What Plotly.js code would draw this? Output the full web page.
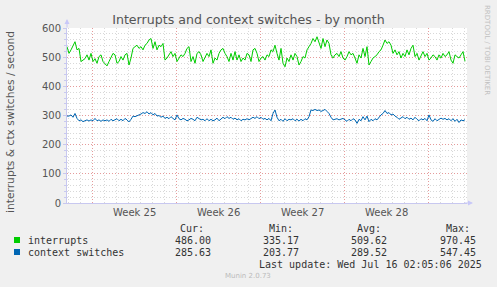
<!DOCTYPE html>
<html>
<head>
<meta charset="utf-8">
<script src="https://cdn.plot.ly/plotly-3.0.1.min.js"></script>
<style>html,body{margin:0;padding:0;background:#F0F0F0;}#chart{width:497px;height:287px;}</style>
</head>
<body>
<div id="chart"></div>
<script>
// ---- data (4-hour samples) ----
const seriesNames = ["interrupts", "context switches"];
const seriesColors = ["#00CC00", "#0066B3"];
const interrupts = [
 536,513,525,541,553,525,530,485,490,495,
 508,490,513,485,495,479,502,508,485,479,
 470,485,497,513,508,479,485,502,490,508,
 513,473,497,530,536,541,530,536,525,541,
 547,559,564,530,553,525,541,536,547,490,
 497,508,519,502,513,485,497,508,502,513,
 530,536,485,502,479,513,519,508,485,502,
 513,502,525,479,497,490,513,525,530,513,
 502,485,513,490,519,490,508,485,497,490,
 513,508,485,525,530,513,485,497,502,490,
 508,502,525,519,541,513,490,530,479,467,
 497,485,508,490,513,502,473,485,502,497,
 525,536,547,564,553,570,547,530,564,536,
 559,547,508,497,508,513,502,519,497,490,
 502,519,508,513,497,479,508,497,530,502,
 536,473,485,497,502,508,519,525,541,559,
 547,553,541,513,525,508,519,497,513,502,
 525,508,530,541,502,513,490,508,519,502,
 513,490,497,508,502,490,508,497,513,502,
 508,519,490,479,508,502,497,508,519,486];
const ctxSwitches = [
 298,298,302,294,307,290,282,285,279,282,
 285,281,285,282,290,282,285,280,285,282,
 285,280,287,282,287,289,282,287,282,290,
 285,278,287,298,296,298,302,305,310,307,
 313,305,310,302,307,298,300,294,298,290,
 294,289,296,290,285,302,289,285,290,287,
 282,285,290,287,282,294,290,285,287,282,
 289,282,287,282,285,291,282,289,294,289,
 296,290,294,287,291,285,289,282,287,285,
 289,285,289,294,290,296,289,294,287,290,
 285,290,282,307,319,294,282,287,280,289,
 282,287,285,289,282,287,281,287,282,289,
 285,296,319,317,321,317,319,314,317,321,
 314,307,294,285,287,289,285,287,290,285,
 280,287,282,289,285,273,287,282,296,285,
 298,279,287,282,289,285,294,302,307,317,
 307,310,302,305,298,294,287,291,296,289,
 294,287,291,285,294,287,282,289,285,290,
 282,302,285,280,289,282,287,291,287,290,
 285,289,282,289,280,287,276,285,282,285.63];
const yTicks = [0,100,200,300,400,500,600];
const weekStarts = ["2025-06-16","2025-06-23","2025-06-30","2025-07-07","2025-07-14"];
const weekLabels = ["Week 25","Week 26","Week 27","Week 28"];
const weekMids = ["2025-06-19 12:00","2025-06-26 12:00","2025-07-03 12:00","2025-07-10 12:00"];
const statHeaders = ["Cur:","Min:","Avg:","Max:"];
const statsInterrupts = ["486.00","335.17","509.62","970.45"];
const statsCtx = ["285.63","203.77","289.52","547.45"];
const lastUpdate = "Last update: Wed Jul 16 02:05:06 2025";
const titleText = "Interrupts and context switches - by month";
const yTitle = "interrupts & ctx switches / second";

// ---- time axis ----
const HOUR = 3600000;
const t0 = Date.UTC(2025,5,13,21,24);
const xs = interrupts.map((_, i) => t0 + i*4*HOUR);
const xRange = ["2025-06-13 21:24", "2025-07-17 05:24"];

// ---- geometry helpers (pixel -> paper) ----
const W = 497, H = 287, L = 67, R = 30, T = 28, B = 84;
const PW = W - L - R, PH = H - T - B;
const px = x => (x - L) / PW;
const py = y => (H - B - y) / PH;

const mono = "DejaVu Sans Mono, monospace";
const sans = "DejaVu Sans, sans-serif";
const txt = "#333333";

const traces = [
  {x: xs, y: interrupts, type: "scatter", mode: "lines", name: seriesNames[0],
   line: {color: seriesColors[0], width: 1}, hoverinfo: "skip"},
  {x: xs, y: ctxSwitches, type: "scatter", mode: "lines", name: seriesNames[1],
   line: {color: seriesColors[1], width: 1}, hoverinfo: "skip"}
];

const ann = [];
function A(o){ ann.push(Object.assign({xref:"paper", yref:"paper", showarrow:false, borderpad:0}, o)); }

weekLabels.forEach((w, i) => ann.push({x: weekMids[i], xref:"x", y: py(212.5), yref:"paper",
  text: w, showarrow:false, font:{family:sans, size:10, color:"#555"}, yanchor:"middle"}));
A({x: px(10), y: py(122), text: yTitle, textangle: -90, font:{family:sans, size:10.7, color:"#555"}, xanchor:"center", yanchor:"middle"});
A({x: px(487), y: py(4), text: "RRDTOOL / TOBI OETIKER", textangle: 90, font:{family:sans, size:7, color:"#C0C0C0"}, xanchor:"center", yanchor:"top"});
const hdrRight = [204, 292.7, 381, 470];
const valRight = [210.7, 299.3, 387.3, 476];
statHeaders.forEach((h,i) => A({x: px(hdrRight[i]+1), y: py(228), text: h, font:{family:mono, size:10, color:txt}, xanchor:"right", yanchor:"middle"}));
statsInterrupts.forEach((v,i) => A({x: px(valRight[i]+1), y: py(240), text: v, font:{family:mono, size:10, color:txt}, xanchor:"right", yanchor:"middle"}));
statsCtx.forEach((v,i) => A({x: px(valRight[i]+1), y: py(252), text: v, font:{family:mono, size:10, color:txt}, xanchor:"right", yanchor:"middle"}));
A({x: px(26.5), y: py(240), text: seriesNames[0], font:{family:mono, size:10, color:txt}, xanchor:"left", yanchor:"middle"});
A({x: px(26.5), y: py(252), text: seriesNames[1], font:{family:mono, size:10, color:txt}, xanchor:"left", yanchor:"middle"});
A({x: px(483), y: py(264), text: lastUpdate, font:{family:mono, size:10, color:txt}, xanchor:"right", yanchor:"middle"});
A({x: px(248), y: py(276), text: "Munin 2.0.73", font:{family:sans, size:7, color:"#BBBBBB"}, xanchor:"center", yanchor:"middle"});
ann.push({xref:"paper", yref:"paper", x: 0, y: py(19), ax: 0, ay: 10, showarrow:true, arrowhead:2, arrowsize:1, arrowwidth:1, arrowcolor:"#C8C8F8", text:""});
ann.push({xref:"paper", yref:"paper", x: px(473), y: 0, ax: -10, ay: 0, showarrow:true, arrowhead:2, arrowsize:1, arrowwidth:1, arrowcolor:"#C8C8F8", text:""});

const shapes = [
  {type:"rect", xref:"paper", yref:"paper", x0: px(14), x1: px(20), y0: py(237), y1: py(243), fillcolor: seriesColors[0], line:{width:0}},
  {type:"rect", xref:"paper", yref:"paper", x0: px(14), x1: px(20), y0: py(249), y1: py(255), fillcolor: seriesColors[1], line:{width:0}}
];

const majorGrid = "rgba(235,130,130,0.7)";
const minorGrid = "#D8D8D8";
const layout = {
  width: W, height: H,
  margin: {l: L, r: R, t: T, b: B, pad: 0},
  paper_bgcolor: "#F0F0F0", plot_bgcolor: "#FFFFFF",
  showlegend: false,
  title: {text: titleText, font: {family: sans, size: 12.6, color: "#555"}, x: 0.5, xref: "container", xanchor: "center", y: 1 - 20/H, yanchor: "middle"},
  xaxis: {type: "date", range: xRange, tickmode: "array", tickvals: weekStarts, showticklabels: false,
    ticks: "", showgrid: true, gridcolor: majorGrid, griddash: "1px,2px", gridwidth: 1,
    minor: {dtick: 86400000, tick0: "2025-06-16", showgrid: true, gridcolor: minorGrid, griddash: "1px,2px", ticks: ""},
    showline: true, linecolor: "#C8C8F0", linewidth: 1, zeroline: false, fixedrange: true},
  yaxis: {range: [0, 600], tickmode: "array", tickvals: yTicks, ticks: "outside", ticklen: 3, tickcolor: "#C8C8F0",
    tickfont: {family: sans, size: 10, color: "#555"},
    showgrid: true, gridcolor: majorGrid, griddash: "1px,2px", gridwidth: 1,
    minor: {dtick: 20, tick0: 0, showgrid: true, gridcolor: minorGrid, griddash: "1px,2px", ticks: "outside", ticklen: 2, tickcolor: "#C8C8F0"},
    showline: true, linecolor: "#C8C8F0", linewidth: 1, zeroline: false, fixedrange: true},
  annotations: ann,
  shapes: shapes
};

Plotly.newPlot("chart", traces, layout, {staticPlot: true, displayModeBar: false});
</script>
</body>
</html>
